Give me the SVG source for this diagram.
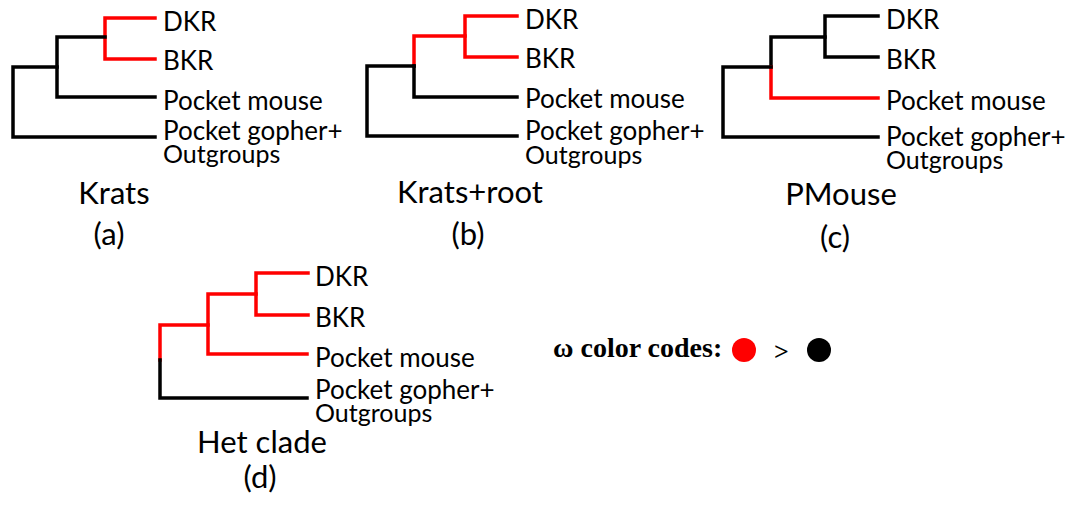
<svg xmlns="http://www.w3.org/2000/svg" width="1073" height="506" viewBox="0 0 1073 506">
  <style>
    .br { fill: none; stroke-width: 3.5; stroke-linejoin: miter; stroke-linecap: square; }
    .hi { stroke: #ff0000; }
    .lo { stroke: #000000; }
    .leaf { font-family: Lato, "Open Sans", sans-serif; font-size: 26px; fill: #000; }
    .leaf2 { font-family: Lato, "Open Sans", sans-serif; font-size: 25px; fill: #000; }
    .title { font-family: Lato, "Open Sans", sans-serif; font-size: 31px; fill: #000; text-anchor: middle; }
    .legend { font-family: "Liberation Serif", serif; font-weight: bold; font-size: 28px; fill: #000; }
  </style>
  <rect width="1073" height="506" fill="#ffffff"/>

  <!-- (a) Krats -->
  <g id="tree-a">
    <g class="connectors">
      <path class="br hi" d="M155,18 H105 V59 H155"/>
      <path class="br lo" d="M105,37 H57 V97 H155"/>
      <path class="br lo" d="M57,67 H13 V137 H155"/>
    </g>
    <text class="leaf" x="163" y="31">DKR</text>
    <text class="leaf" x="163" y="70">BKR</text>
    <text class="leaf" x="163" y="110">Pocket mouse</text>
    <text class="leaf" x="163" y="140">Pocket gopher+</text>
    <text class="leaf2" x="163" y="163">Outgroups</text>
    <text class="title" x="114" y="204">Krats</text>
    <text class="title" x="109" y="245">(a)</text>
  </g>

  <!-- (b) Krats+root -->
  <g id="tree-b">
    <g class="connectors">
      <path class="br hi" d="M517,16 H465 V57 H517"/>
      <path class="br hi" d="M465,36 H414 V66"/>
      <path class="br lo" d="M414,66 V97 H517"/>
      <path class="br lo" d="M414,66 H367 V136 H517"/>
    </g>
    <text class="leaf" x="525" y="29">DKR</text>
    <text class="leaf" x="525" y="68">BKR</text>
    <text class="leaf" x="525" y="108">Pocket mouse</text>
    <text class="leaf" x="525" y="140">Pocket gopher+</text>
    <text class="leaf2" x="525" y="164">Outgroups</text>
    <text class="title" x="470" y="203">Krats+root</text>
    <text class="title" x="468" y="245">(b)</text>
  </g>

  <!-- (c) PMouse -->
  <g id="tree-c">
    <g class="connectors">
      <path class="br lo" d="M878,16 H825 V57 H878"/>
      <path class="br lo" d="M825,37 H771 V67"/>
      <path class="br hi" d="M771,67 V98 H878"/>
      <path class="br lo" d="M771,67 H723 V137 H878"/>
    </g>
    <text class="leaf" x="886" y="29">DKR</text>
    <text class="leaf" x="886" y="69">BKR</text>
    <text class="leaf" x="886" y="110">Pocket mouse</text>
    <text class="leaf" x="886" y="146">Pocket gopher+</text>
    <text class="leaf2" x="886" y="169">Outgroups</text>
    <text class="title" x="841" y="205">PMouse</text>
    <text class="title" x="835" y="248">(c)</text>
  </g>

  <!-- (d) Het clade -->
  <g id="tree-d">
    <g class="connectors">
      <path class="br hi" d="M308,273 H256 V315 H308"/>
      <path class="br hi" d="M256,294 H208 V354 H307"/>
      <path class="br hi" d="M208,325 H160 V360"/>
      <path class="br lo" d="M160,360 V398 H307"/>
    </g>
    <text class="leaf" x="315" y="286">DKR</text>
    <text class="leaf" x="315" y="327">BKR</text>
    <text class="leaf" x="315" y="367">Pocket mouse</text>
    <text class="leaf" x="315" y="399">Pocket gopher+</text>
    <text class="leaf2" x="315" y="422">Outgroups</text>
    <text class="title" x="262" y="453">Het clade</text>
    <text class="title" x="260" y="488">(d)</text>
  </g>

  <!-- colour key -->
  <g id="legend">
    <text class="legend" x="553" y="357">ω color codes:</text>
    <circle cx="744" cy="350" r="12" fill="#ff0000"/>
    <text x="774" y="360" font-family="Liberation Serif, serif" font-weight="bold" font-size="26" fill="#000">&gt;</text>
    <circle cx="819" cy="350" r="12" fill="#000000"/>
  </g>
</svg>
